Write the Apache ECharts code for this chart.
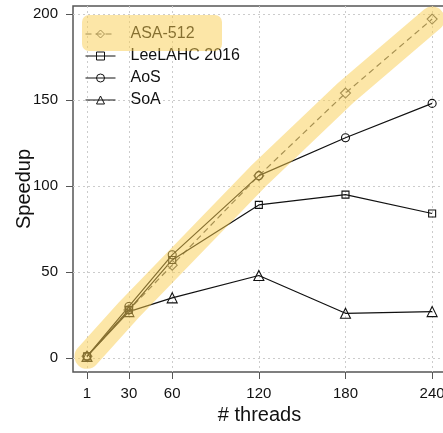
<!DOCTYPE html>
<html><head><meta charset="utf-8">
<script src="https://cdn.jsdelivr.net/npm/echarts@6/dist/echarts.min.js"></script>
<style>html,body{margin:0;padding:0;background:#fff}#c{width:443px;height:433px}</style>
</head><body><div id="c"></div>
<script>
const threads = [1, 30, 60, 120, 180, 240];
const xTicks = [1, 30, 60, 120, 180, 240];
const yTicks = [0, 50, 100, 150, 200];
const asa512 = [1, 28, 54, 106, 154, 197];
const leeLAHC = [1, 28, 57, 89, 95, 84];
const aos = [1, 30, 60, 106, 128, 148];
const soa = [1, 27, 35, 48, 26, 27];

const pair = (ys) => threads.map((t, i) => [t, ys[i]]);
const font = 'Liberation Sans, Arial, Helvetica, sans-serif';
const band = 'rgba(250,205,80,0.5)';
const mk = (name, ys, symbol, size, dashed) => ({
  name, type: 'line', data: pair(ys), symbol, symbolSize: size,
  lineStyle: { color: dashed ? '#555' : '#111', width: 1.2, type: dashed ? [6, 4] : 'solid' },
  itemStyle: { color: 'rgba(0,0,0,0)', borderColor: dashed ? '#555' : '#111', borderWidth: 1.1 },
  emphasis: { disabled: true }, animation: false, z: 3
});

const chart = echarts.init(document.getElementById('c'));
chart.setOption({
  animation: false,
  grid: { left: 73, top: 6, right: -3, bottom: 61, show: true, borderColor: '#555', borderWidth: 1.5, outerBoundsMode: 'none', containLabel: false },
  xAxis: {
    type: 'value', min: -8.7, max: 249.6,
    name: '# threads', nameLocation: 'middle', nameGap: 33, nameMoveOverlap: false,
    nameTextStyle: { fontFamily: font, fontSize: 20, color: '#111' },
    axisLine: { show: false, onZero: false },
    axisTick: { customValues: xTicks, length: 7, lineStyle: { color: '#555', width: 1 } },
    axisLabel: { customValues: xTicks, margin: 14, fontFamily: font, fontSize: 15, color: '#111' },
    splitLine: { show: true, customValues: xTicks, lineStyle: { color: '#ccc', type: [2, 3], width: 1 } }
  },
  yAxis: {
    type: 'value', min: -8.1, max: 204.6,
    name: 'Speedup', nameLocation: 'middle', nameGap: 39, nameRotate: 90, nameMoveOverlap: false,
    nameTextStyle: { fontFamily: font, fontSize: 20, color: '#111' },
    axisLine: { show: false, onZero: false },
    axisTick: { customValues: yTicks, length: 7, lineStyle: { color: '#555', width: 1 } },
    axisLabel: { customValues: yTicks, margin: 15, fontFamily: font, fontSize: 15, color: '#111' },
    splitLine: { show: true, customValues: yTicks, lineStyle: { color: '#ccc', type: [2, 3], width: 1 } }
  },
  legend: {
    data: ['ASA-512', 'LeeLAHC 2016', 'AoS', 'SoA'],
    orient: 'vertical', left: 85, top: 26, padding: 0,
    itemWidth: 30, itemHeight: 10, itemGap: 6,
    lineStyle: { width: 1 },
    itemStyle: { borderWidth: 1 },
    textStyle: { fontFamily: font, fontSize: 16, color: '#111', padding: [0, 0, 0, 10] },
    selectedMode: false
  },
  graphic: [{
    type: 'rect', left: 82, top: 15, z: 100,
    shape: { width: 140, height: 36, r: 7 },
    style: { fill: band }, silent: true
  }],
  series: [
    mk('ASA-512', asa512, 'diamond', 10, true),
    mk('LeeLAHC 2016', leeLAHC, 'rect', 7, false),
    mk('AoS', aos, 'circle', 8, false),
    mk('SoA', soa, 'triangle', 10, false),
    {
      name: 'band', type: 'line', data: pair(asa512), symbol: 'none', silent: true,
      lineStyle: { color: band, width: 25, cap: 'round', join: 'round' },
      z: 10, animation: false, emphasis: { disabled: true }
    }
  ]
});
</script></body></html>
